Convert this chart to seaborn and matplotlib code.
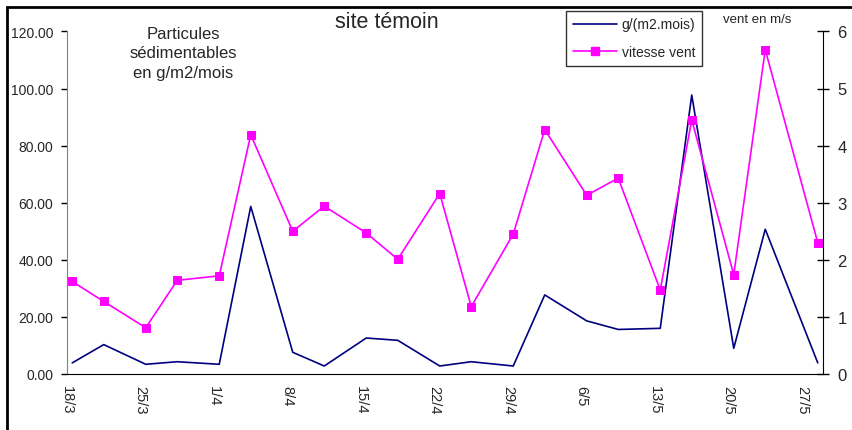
import pandas as pd
import numpy as np
import matplotlib
matplotlib.use('Agg')
import matplotlib.pyplot as plt
from matplotlib.patches import Rectangle
from matplotlib.lines import Line2D
from matplotlib.ticker import FuncFormatter, MultipleLocator
import seaborn as sns

# sampling dates (day/month)
dates = ['18/3', '21/3', '25/3', '28/3', '1/4', '4/4', '8/4', '11/4', '15/4', '18/4',
         '22/4', '25/4', '29/4', '2/5', '6/5', '9/5', '13/5', '16/5', '20/5', '23/5', '28/5']
# sedimentable particles in g/(m2.mois)
particules = [3.9, 10.3, 3.4, 4.3, 3.4, 58.7, 7.6, 2.8, 12.6, 11.8,
              2.8, 4.3, 2.8, 27.7, 18.6, 15.6, 16.0, 97.7, 9.0, 50.7, 3.9]
# wind speed in m/s
vent = [1.62, 1.27, 0.81, 1.64, 1.72, 4.19, 2.50, 2.94, 2.47, 2.01,
        3.16, 1.18, 2.45, 4.28, 3.13, 3.43, 1.47, 4.45, 1.74, 5.68, 2.30]

tick_labels = ['18/3', '25/3', '1/4', '8/4', '15/4', '22/4', '29/4', '6/5', '13/5', '20/5', '27/5']

df = pd.DataFrame({'date': pd.to_datetime([d + '/2002' for d in dates], format='%d/%m/%Y'),
                   'g': particules, 'vent': vent})
# Excel date axis puts points in the middle of the day
df['x'] = df['date'] + pd.Timedelta(hours=12)

sns.set_style('white')
plt.rcParams['font.family'] = ['Liberation Sans', 'DejaVu Sans']

fig = plt.figure(figsize=(8.52, 4.31), dpi=100)
ax = fig.add_axes([67/852, 1-375/431, (823-67)/852, (375-32.4)/431])
ax2 = ax.twinx()

sns.lineplot(data=df, x='x', y='g', ax=ax, color='#000080', linewidth=1.2, label='g/(m2.mois)', legend=False)
sns.lineplot(data=df, x='x', y='vent', ax=ax2, color='#FF00FF', linewidth=1.2, marker='s',
             markersize=6, markeredgecolor='#FF00FF', label='vitesse vent', legend=False)

start = pd.Timestamp('2002-03-18')
ax.set_xlim(start, pd.Timestamp('2002-05-29'))
ticks = pd.to_datetime([t + '/2002' for t in tick_labels], format='%d/%m/%Y')
ax.set_xticks(ticks)
ax.set_xticklabels(tick_labels, rotation=270, fontsize=10.5)

ax.set_ylim(0, 120)
ax.yaxis.set_major_locator(MultipleLocator(20))
ax.yaxis.set_major_formatter(FuncFormatter(lambda v, p: f'{v:.2f}'))
ax2.set_ylim(0, 6)
ax2.yaxis.set_major_locator(MultipleLocator(1))

ax.set_xlabel('')
ax.set_ylabel('')
ax2.set_ylabel('')

for a in (ax, ax2):
    a.spines['top'].set_visible(False)
ax.spines['left'].set_color('#808080')
ax2.spines['left'].set_visible(False)
ax.spines['right'].set_visible(False)
ax2.spines['right'].set_color('black')
ax.spines['bottom'].set_color('black')
ax2.spines['bottom'].set_visible(False)

ax.tick_params(axis='y', direction='out', length=4, width=1, color='black', labelsize=10, pad=6)
ax.tick_params(axis='x', direction='out', length=4, width=1, color='black', labelsize=10.5, pad=4)
ax2.tick_params(axis='y', direction='inout', length=9, width=1, color='black', labelsize=12, pad=6)

# texts
fig.text(183/852, 1-54/431, 'Particules\nsédimentables\nen g/m2/mois', ha='center', va='center',
         fontsize=12, linespacing=1.35)
fig.text(387/852, 1-23/431, 'site témoin', ha='center', va='center', fontsize=15.5)
fig.text(757/852, 1-20/431, 'vent en m/s', ha='center', va='center', fontsize=9.5)

handles = [Line2D([], [], color='#000080', linewidth=1.2),
           Line2D([], [], color='#FF00FF', linewidth=1.2, marker='s', markersize=6)]
leg = fig.legend(handles, ['g/(m2.mois)', 'vitesse vent'], loc='upper left',
                 bbox_to_anchor=(566/852, 1-11.5/431), frameon=True, fancybox=False,
                 fontsize=10, borderpad=0.5, handlelength=3.2, handletextpad=0.3,
                 labelspacing=0.95, borderaxespad=0)
leg.get_frame().set_edgecolor('black')
leg.get_frame().set_linewidth(1)

# outer chart border (cut by image edges)
fig.add_artist(Rectangle((7/852, -0.1), 1.2, 1.1 - 8/431, transform=fig.transFigure,
                         fill=False, edgecolor='black', linewidth=2))

fig.savefig('out.png', dpi=100)
